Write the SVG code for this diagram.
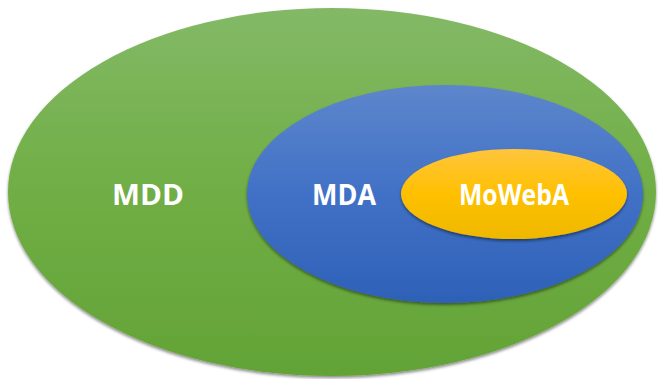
<svg xmlns="http://www.w3.org/2000/svg" width="658" height="379" viewBox="0 0 658 379">
  <defs>
    <linearGradient id="gGreen" x1="0" y1="0" x2="0" y2="1">
      <stop offset="0" stop-color="#83b966"/>
      <stop offset="0.5" stop-color="#70ae45"/>
      <stop offset="1" stop-color="#63a336"/>
    </linearGradient>
    <linearGradient id="gBlue" x1="0" y1="0" x2="0" y2="1">
      <stop offset="0" stop-color="#5d86cc"/>
      <stop offset="0.5" stop-color="#4171c6"/>
      <stop offset="1" stop-color="#2e61b8"/>
    </linearGradient>
    <linearGradient id="gGold" x1="0" y1="0" x2="0" y2="1">
      <stop offset="0" stop-color="#ffc53d"/>
      <stop offset="0.5" stop-color="#ffc000"/>
      <stop offset="1" stop-color="#eeb800"/>
    </linearGradient>
    <filter id="shadow" x="-10%" y="-10%" width="120%" height="125%">
      <feDropShadow dx="0" dy="2" stdDeviation="1.5" flood-color="#000" flood-opacity="0.45"/>
    </filter>
  </defs>
  <style>
    .label { font-family: "Open Sans", "Liberation Sans", sans-serif; font-weight: bold; font-size: 28px; fill: #ffffff; text-anchor: middle; }
  </style>
  <rect width="658" height="379" fill="#ffffff"/>

  <g id="mdd">
    <ellipse cx="332" cy="192" rx="324" ry="184" fill="url(#gGreen)" filter="url(#shadow)"/>
    <text class="label" x="148" y="205" textLength="72" lengthAdjust="spacingAndGlyphs">MDD</text>
  </g>

  <g id="mda">
    <ellipse cx="445" cy="194" rx="198" ry="109" fill="url(#gBlue)" filter="url(#shadow)"/>
    <text class="label" x="344" y="205" textLength="64" lengthAdjust="spacingAndGlyphs">MDA</text>
  </g>

  <g id="moweba">
    <ellipse cx="514" cy="194" rx="113" ry="45" fill="url(#gGold)" filter="url(#shadow)"/>
    <text class="label" x="514" y="205" textLength="110" lengthAdjust="spacingAndGlyphs">MoWebA</text>
  </g>

  <g id="connectors"/>
</svg>
